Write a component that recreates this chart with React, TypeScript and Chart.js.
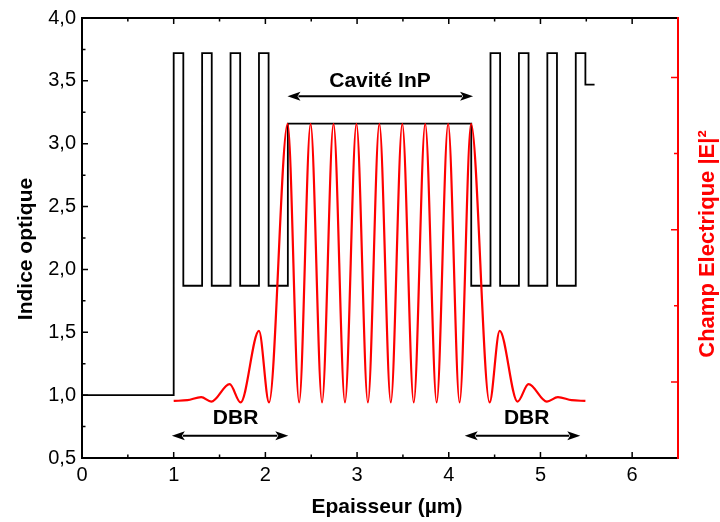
import React, { useEffect, useRef } from 'react';
import { Chart, registerables } from 'chart.js';

Chart.register(...registerables);

const FONT = '"Liberation Sans", Arial, Helvetica, sans-serif';

// Refractive index profile (step line): layer start positions (µm) and index values
const indexX = [0, 1.0, 1.105, 1.31, 1.415, 1.62, 1.725, 1.93, 2.035, 2.245, 4.245, 4.455, 4.56, 4.765, 4.87, 5.075, 5.18, 5.385, 5.49, 5.59];
const indexN = [1.0, 3.72, 1.87, 3.72, 1.87, 3.72, 1.87, 3.72, 1.87, 3.16, 1.87, 3.72, 1.87, 3.72, 1.87, 3.72, 1.87, 3.72, 3.47, 3.47];

// Electric field |E|^2 (right axis, arbitrary units)
const fieldX = [1.0, 1.15, 1.30, 1.41, 1.61, 1.73, 1.93, 2.04, 2.243, 2.368, 2.493, 2.618, 2.743, 2.868, 2.993, 3.118, 3.243, 3.368, 3.493, 3.618, 3.743, 3.868, 3.993, 4.118, 4.243, 4.445, 4.555, 4.75, 4.87, 5.07, 5.19, 5.34, 5.49];
const fieldE = [0.75, 0.76, 0.80, 0.74, 0.97, 0.73, 1.67, 0.73, 4.39, 0.73, 4.39, 0.73, 4.39, 0.73, 4.39, 0.73, 4.39, 0.73, 4.39, 0.73, 4.39, 0.73, 4.39, 0.73, 4.39, 0.73, 1.67, 0.74, 0.97, 0.74, 0.80, 0.76, 0.75];

// Axis ticks
const xTickValues = [0, 1, 2, 3, 4, 5, 6];
const xTickLabels = ['0', '1', '2', '3', '4', '5', '6'];
const xMinorTicks = [0.5, 1.5, 2.5, 3.5, 4.5, 5.5];
const yTickValues = [0.5, 1.0, 1.5, 2.0, 2.5, 3.0, 3.5, 4.0];
const yTickLabels = ['0,5', '1,0', '1,5', '2,0', '2,5', '3,0', '3,5', '4,0'];
const yMinorTicks = [0.75, 1.25, 1.75, 2.25, 2.75, 3.25, 3.75];
const y2MajorTicks = [1, 3, 5];
const y2MinorTicks = [2, 4];

// Text
const xTitle = 'Epaisseur (µm)';
const yTitle = 'Indice optique';
const y2Title = 'Champ Electrique |E|²';
const annotationTexts = ['Cavité InP', 'DBR', 'DBR'];

// Annotation placement (data coordinates on x / left y axis)
const annotationPos = [
  { x: 3.25, y: 3.5 },
  { x: 1.675, y: 0.815 },
  { x: 4.85, y: 0.815 },
];
const arrowPos = [
  { x1: 2.241, x2: 4.265, y: 3.378 },
  { x1: 0.98, x2: 2.25, y: 0.676 },
  { x1: 4.174, x2: 5.434, y: 0.676 },
];

const decorPlugin = {
  id: 'decor',
  afterDatasetsDraw(chart: any) {
    const { ctx, chartArea: a, scales } = chart;
    const sx = scales.x, sy = scales.y, sy2 = scales.y2;
    ctx.save();

    // black frame (left, top, bottom)
    ctx.strokeStyle = '#000';
    ctx.lineWidth = 2;
    ctx.beginPath();
    ctx.moveTo(a.right, a.top);
    ctx.lineTo(a.left, a.top);
    ctx.lineTo(a.left, a.bottom);
    ctx.lineTo(a.right, a.bottom);
    ctx.stroke();

    // ticks (inward)
    ctx.lineWidth = 1.5;
    ctx.beginPath();
    const xt = (v: number, len: number) => {
      const p = sx.getPixelForValue(v);
      ctx.moveTo(p, a.bottom);
      ctx.lineTo(p, a.bottom - len);
      ctx.moveTo(p, a.top);
      ctx.lineTo(p, a.top + len);
    };
    xTickValues.forEach((v) => xt(v, 6));
    xMinorTicks.forEach((v) => xt(v, 3.5));
    const yt = (v: number, len: number) => {
      const p = sy.getPixelForValue(v);
      ctx.moveTo(a.left, p);
      ctx.lineTo(a.left + len, p);
    };
    yTickValues.forEach((v) => yt(v, 6));
    yMinorTicks.forEach((v) => yt(v, 3.5));
    ctx.stroke();

    // red right axis
    ctx.strokeStyle = '#ff0000';
    ctx.lineWidth = 2;
    ctx.beginPath();
    ctx.moveTo(a.right, a.top - 1);
    ctx.lineTo(a.right, a.bottom + 1);
    ctx.stroke();
    ctx.lineWidth = 1.5;
    ctx.beginPath();
    const rt = (v: number, len: number) => {
      const p = sy2.getPixelForValue(v);
      ctx.moveTo(a.right, p);
      ctx.lineTo(a.right - len, p);
    };
    y2MajorTicks.forEach((v) => rt(v, 7));
    y2MinorTicks.forEach((v) => rt(v, 4));
    ctx.stroke();

    // axis titles
    ctx.textAlign = 'center';
    ctx.textBaseline = 'middle';
    ctx.font = `bold 21px ${FONT}`;
    ctx.fillStyle = '#000';
    ctx.fillText(xTitle, 387, 507);

    ctx.save();
    ctx.translate(26, 249);
    ctx.rotate(-Math.PI / 2);
    ctx.fillText(yTitle, 0, 0);
    ctx.restore();

    ctx.save();
    ctx.fillStyle = '#ff0000';
    ctx.font = `bold 22px ${FONT}`;
    ctx.translate(708, 244);
    ctx.rotate(-Math.PI / 2);
    ctx.fillText(y2Title, 0, 0);
    ctx.restore();

    // annotations
    ctx.fillStyle = '#000';
    ctx.font = `bold 21px ${FONT}`;
    annotationTexts.forEach((t, i) => {
      const p = annotationPos[i];
      ctx.fillText(t, sx.getPixelForValue(p.x), sy.getPixelForValue(p.y));
    });

    ctx.strokeStyle = '#000';
    ctx.lineWidth = 2;
    arrowPos.forEach((ar) => {
      const x1 = sx.getPixelForValue(ar.x1);
      const x2 = sx.getPixelForValue(ar.x2);
      const yy = sy.getPixelForValue(ar.y);
      const hl = 13, hw = 4.5;
      ctx.beginPath();
      ctx.moveTo(x1 + hl - 2, yy);
      ctx.lineTo(x2 - hl + 2, yy);
      ctx.stroke();
      ctx.beginPath();
      ctx.moveTo(x1, yy);
      ctx.lineTo(x1 + hl, yy - hw);
      ctx.lineTo(x1 + hl - 3, yy);
      ctx.lineTo(x1 + hl, yy + hw);
      ctx.closePath();
      ctx.fill();
      ctx.beginPath();
      ctx.moveTo(x2, yy);
      ctx.lineTo(x2 - hl, yy - hw);
      ctx.lineTo(x2 - hl + 3, yy);
      ctx.lineTo(x2 - hl, yy + hw);
      ctx.closePath();
      ctx.fill();
    });

    ctx.restore();
  },
};

export default function App() {
  const ref = useRef<HTMLCanvasElement | null>(null);

  useEffect(() => {
    if (!ref.current) return;
    const chart = new Chart(ref.current, {
      type: 'line',
      data: {
        datasets: [
          {
            label: '|E|²',
            data: fieldX.map((x, i) => ({ x, y: fieldE[i] })),
            yAxisID: 'y2',
            borderColor: '#ff0000',
            borderWidth: 2.2,
            pointRadius: 0,
            cubicInterpolationMode: 'monotone',
            fill: false,
            order: 0,
          },
          {
            label: 'Indice',
            data: indexX.map((x, i) => ({ x, y: indexN[i] })),
            yAxisID: 'y',
            borderColor: '#000000',
            borderWidth: 1.8,
            pointRadius: 0,
            stepped: true,
            fill: false,
            order: 1,
          },
        ],
      },
      options: {
        animation: false,
        responsive: false,
        devicePixelRatio: 1,
        layout: { padding: { top: 16, left: 0, right: 0, bottom: 0 } },
        plugins: { legend: { display: false }, tooltip: { enabled: false } },
        scales: {
          x: {
            type: 'linear',
            position: 'bottom',
            min: 0,
            max: 6.5,
            afterBuildTicks: (s: any) => {
              s.ticks = xTickValues.map((v) => ({ value: v }));
            },
            afterFit: (s: any) => {
              s.height = 64;
            },
            ticks: {
              autoSkip: false,
              maxRotation: 0,
              padding: 5,
              color: '#000',
              font: { family: FONT, size: 20 },
              callback: (_v: any, i: number) => xTickLabels[i],
            },
            grid: { display: false, drawTicks: false },
            border: { display: false },
          },
          y: {
            type: 'linear',
            position: 'left',
            min: 0.5,
            max: 4.0,
            afterBuildTicks: (s: any) => {
              s.ticks = yTickValues.map((v) => ({ value: v }));
            },
            afterFit: (s: any) => {
              s.width = 82;
            },
            ticks: {
              autoSkip: false,
              padding: 6,
              color: '#000',
              font: { family: FONT, size: 20 },
              callback: (_v: any, i: number) => yTickLabels[i],
            },
            grid: { display: false, drawTicks: false },
            border: { display: false },
          },
          y2: {
            type: 'linear',
            position: 'right',
            min: 0,
            max: 5.78,
            afterFit: (s: any) => {
              s.width = 42;
            },
            ticks: { display: false },
            grid: { display: false, drawTicks: false },
            border: { display: false },
          },
        },
      } as any,
      plugins: [decorPlugin],
    });
    return () => chart.destroy();
  }, []);

  return (
    <div style={{ position: 'fixed', left: 0, top: 0, width: 720, height: 522, background: '#fff' }}>
      <canvas ref={ref} width={720} height={522} style={{ display: 'block', width: 720, height: 522 }} />
    </div>
  );
}
